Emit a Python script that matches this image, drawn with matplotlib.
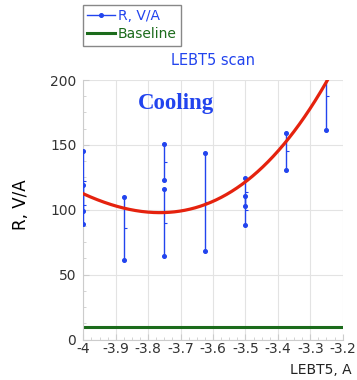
import numpy as np
import matplotlib
matplotlib.use('Agg')
import matplotlib.pyplot as plt
from matplotlib.ticker import MultipleLocator, AutoMinorLocator

# measured R, V/A error bars: position, low end, high end, centre
bar_x = [-4.0, -4.0, -3.875, -3.75, -3.75, -3.625, -3.5, -3.5, -3.375, -3.25]
bar_lo = [98.9, 88.8, 61.0, 123.0, 64.6, 68.0, 102.7, 88.6, 131.0, 161.5]
bar_hi = [145.4, 118.8, 110.0, 151.0, 116.0, 144.0, 124.8, 110.4, 159.0, 214.0]
bar_mid = [122.0, 104.0, 86.0, 137.0, 90.0, 106.0, 113.7, 99.5, 145.0, 188.0]

# fit curve
fit_x = [-4.0, -3.875, -3.75, -3.625, -3.5, -3.375, -3.25]
fit_y = [112.5, 100.9, 97.6, 104.7, 121.4, 152.0, 198.8]

baseline_x = [-4.0, -3.2]
baseline_y = [10.0, 10.0]

plt.rcParams['axes.unicode_minus'] = False
plt.rcParams['font.family'] = ['DejaVu Sans']

fig = plt.figure(figsize=(3.57, 3.8), dpi=100)
ax = fig.add_axes([83.3 / 357, 1 - 339.5 / 380, 259.4 / 357, 259.5 / 380])

blue = '#2244ee'

# one line, broken with NaN between bars, so legend shows line + marker
xs, ys = [], []
for x, lo, hi in zip(bar_x, bar_lo, bar_hi):
    xs += [x, x, np.nan]
    ys += [hi, lo, np.nan]
ax.plot(xs, ys, color=blue, lw=1.0, marker='o', ms=2.6, label='R, V/A',
        zorder=3)
# small tick on the right at each bar centre
ax.plot(bar_x, bar_mid, ls='none', marker=[(0, 0), (1, 0)], ms=4.5,
        mec=blue, mew=0.8, zorder=3)

ax.plot(baseline_x, baseline_y, color='#1b6b1b', lw=2.2, label='Baseline',
        zorder=2)

coef = np.polyfit(fit_x, fit_y, 3)
xx = np.linspace(-4.0, -3.2, 300)
ax.plot(xx, np.polyval(coef, xx), color='#e5220e', lw=2.3, zorder=4)

ax.set_xlim(-4.0, -3.2)
ax.set_ylim(0, 200)
ax.yaxis.set_major_locator(MultipleLocator(50))
ax.xaxis.set_minor_locator(AutoMinorLocator(4))
ax.yaxis.set_minor_locator(AutoMinorLocator(4))
ax.set_xticks(np.arange(-4.0, -3.15, 0.1))
ax.set_xticklabels(['-4', '-3.9', '-3.8', '-3.7', '-3.6', '-3.5', '-3.4',
                    '-3.3', '-3.2'])

ax.grid(True, which='major', color='#e3e3e3', lw=0.8)
ax.set_axisbelow(True)
for side in ['top', 'right']:
    ax.spines[side].set_visible(False)
for side in ['left', 'bottom']:
    ax.spines[side].set_color('#cccccc')
    ax.spines[side].set_linewidth(0.8)
ax.tick_params(which='both', direction='in', color='#cccccc',
               labelsize=10, labelcolor='#333333')
ax.tick_params(which='major', length=4)
ax.tick_params(which='minor', length=2)
ax.tick_params(axis='x', pad=2)
ax.tick_params(axis='y', pad=5)

ax.set_title('LEBT5 scan', color=blue, fontsize=10.5, pad=11)
ax.set_ylabel('R, V/A', fontsize=12)
ax.yaxis.set_label_coords(-0.205, 0.518)
ax.set_xlabel('LEBT5, A', fontsize=10, ha='right', va='center',
              color='#222222')
ax.xaxis.set_label_coords(1.036, -0.117)

ax.text(0.21, 0.911, 'Cooling', transform=ax.transAxes, color=blue,
        fontsize=16.5, fontweight='bold', family='Liberation Serif',
        va='center', ha='left')

fig.legend(loc='upper left', bbox_to_anchor=(83 / 357, 1 - 5 / 380),
           fontsize=10, labelcolor='linecolor', frameon=True, fancybox=False,
           edgecolor='#888888', framealpha=1, handlelength=2.0,
           handletextpad=0.2, labelspacing=0.3, borderpad=0.3,
           borderaxespad=0)

fig.savefig('out.png', dpi=100)
